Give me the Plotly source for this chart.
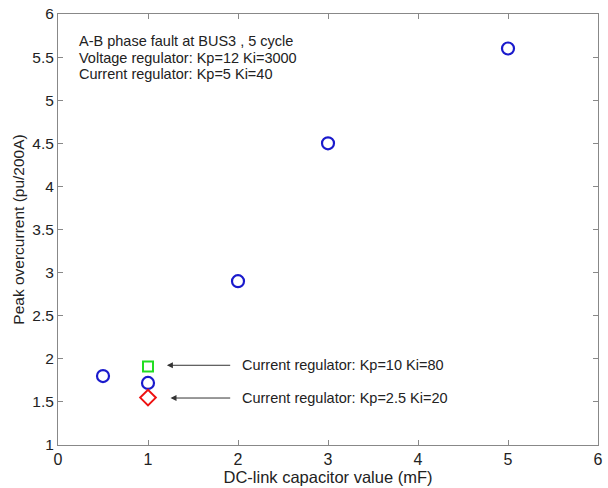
import plotly.graph_objects as go

cap_base = [0.5, 1, 2, 3, 5]
peak_base = [1.8, 1.72, 2.9, 4.5, 5.6]
cap_kp10 = [1]
peak_kp10 = [1.91]
cap_kp25 = [1]
peak_kp25 = [1.55]

x_ticks = [0, 1, 2, 3, 4, 5, 6]
y_ticks = [1, 1.5, 2, 2.5, 3, 3.5, 4, 4.5, 5, 5.5, 6]
y_labels = ["1", "1.5", "2", "2.5", "3", "3.5", "4", "4.5", "5", "5.5", "6"]

info_lines = ["A-B phase fault at BUS3 , 5 cycle",
              "Voltage regulator: Kp=12 Ki=3000",
              "Current regulator: Kp=5 Ki=40"]

font = "Liberation Sans, Arial, sans-serif"

fig = go.Figure()
fig.add_trace(go.Scatter(x=cap_base, y=peak_base, mode="markers",
                         marker=dict(symbol="circle-open", size=12, color="#1a1acc", line=dict(width=2.2))))
fig.add_trace(go.Scatter(x=cap_kp10, y=peak_kp10, mode="markers",
                         marker=dict(symbol="square-open", size=10, color="#22dd22", line=dict(width=2))))
fig.add_trace(go.Scatter(x=cap_kp25, y=peak_kp25, mode="markers",
                         marker=dict(symbol="diamond-open", size=12, color="#ee1111", line=dict(width=2))))

for i, line in enumerate(info_lines):
    fig.add_annotation(x=0.036, y=0.9375 - i * 0.0385, xref="paper", yref="paper",
                       xanchor="left", yanchor="middle", align="left", showarrow=False,
                       text=line, font=dict(family=font, size=14.5, color="#222"))

for yv, hx, label in [(1.925, 1.21, "Current regulator: Kp=10 Ki=80"),
                      (1.545, 1.25, "Current regulator: Kp=2.5 Ki=20")]:
    fig.add_annotation(x=hx, y=yv, ax=1.93, ay=yv, xref="x", yref="y", axref="x", ayref="y",
                       text="", showarrow=True, arrowhead=2, arrowsize=1.2, arrowwidth=1,
                       arrowcolor="#333")
    fig.add_annotation(x=2.02, y=yv, xref="x", yref="y", xanchor="left", yanchor="middle",
                       text=label, showarrow=False, font=dict(family=font, size=14.5, color="#222"))

axis_common = dict(showline=True, linecolor="#888", linewidth=1, mirror="ticks", ticks="inside",
                   ticklen=5, tickcolor="#888", showgrid=False, zeroline=False)
fig.update_xaxes(range=[0, 6], tickvals=x_ticks, **axis_common,
                 tickfont=dict(family=font, size=16, color="#222"),
                 title=dict(text="DC-link capacitor value (mF)", font=dict(family=font, size=16.5, color="#222"), standoff=2))
fig.update_yaxes(range=[1, 6], tickvals=y_ticks, ticktext=y_labels, **axis_common,
                 tickfont=dict(family=font, size=15.5, color="#222"),
                 title=dict(text="Peak overcurrent (pu/200A)", font=dict(family=font, size=15.5, color="#222"), standoff=3))

fig.update_layout(width=608, height=488, margin=dict(l=58, r=5, t=13, b=43),
                  plot_bgcolor="white", paper_bgcolor="white", showlegend=False)
fig.write_html("out.html")
